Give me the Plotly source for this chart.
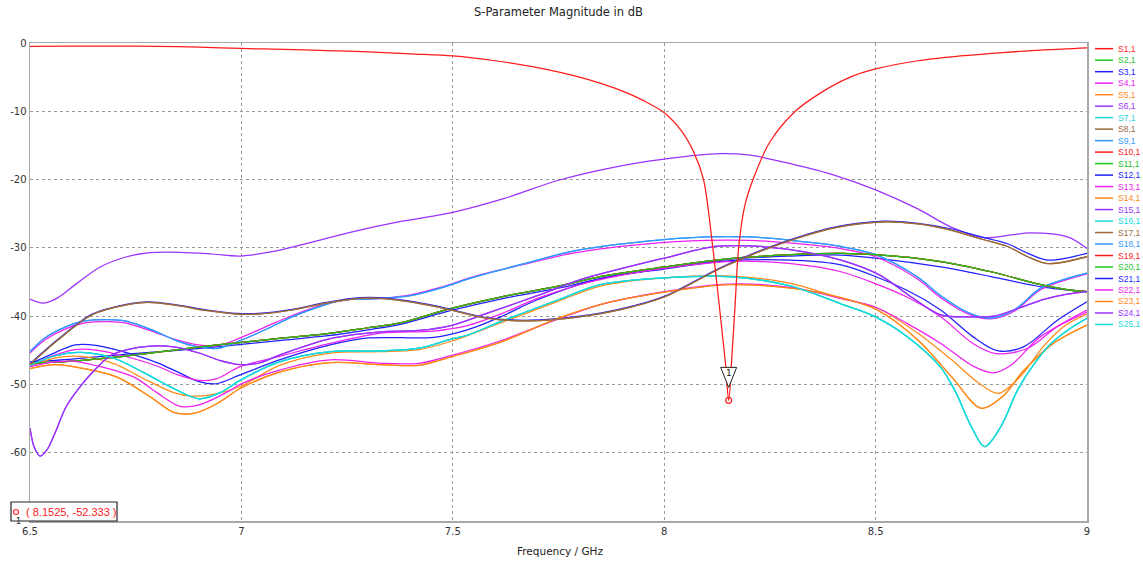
import plotly.graph_objects as go

# ---------------- data (frequency in GHz, magnitude in dB) ----------------
S1_F = [6.5, 6.6, 6.7, 6.8, 6.9, 7.0, 7.1, 7.2, 7.3, 7.4, 7.5, 7.6, 7.7, 7.8, 7.9, 7.95, 8.0, 8.04, 8.07,
        8.093, 8.115, 8.133, 8.145, 8.1525, 8.16, 8.168, 8.176, 8.19, 8.21, 8.25, 8.31, 8.37, 8.44, 8.5,
        8.6, 8.7, 8.8, 8.9, 9.0]
S1_DB = [-0.5, -0.45, -0.45, -0.5, -0.6, -0.8, -0.95, -1.1, -1.3, -1.6, -1.9, -2.6, -3.6, -5.0, -7.0, -8.4,
         -10.2, -12.8, -16.0, -20.0, -30.0, -40.0, -47.0, -52.333, -46.0, -38.0, -30.0, -24.0, -20.0, -14.5,
         -10.0, -7.3, -5.0, -3.8, -2.6, -1.9, -1.4, -1.0, -0.7]

TOP_F = [6.5, 6.531, 6.563, 6.611, 6.666, 6.729, 6.784, 6.855, 6.93, 6.997, 7.07, 7.139, 7.26, 7.38, 7.5,
         7.62, 7.75, 7.88, 8.0, 8.13, 8.2, 8.28, 8.4, 8.5, 8.6, 8.68, 8.757, 8.82, 8.867, 8.954, 9.0]
TOP_DB = [-37.5, -38.1, -37.4, -35.2, -32.8, -31.3, -30.7, -30.65, -30.9, -31.2, -30.6, -29.6, -27.7, -26.1,
          -24.8, -22.8, -20.1, -18.2, -17.0, -16.2, -16.4, -17.4, -19.3, -21.5, -24.3, -27.0, -28.5, -28.1,
          -27.8, -28.4, -30.1]

BROWN_F = [6.5, 6.566, 6.647, 6.725, 6.78, 6.843, 6.92, 6.99, 7.04, 7.12, 7.2, 7.28, 7.35, 7.46, 7.58, 7.68,
           7.8, 7.9, 8.0, 8.14, 8.28, 8.4, 8.52, 8.6, 8.678, 8.75, 8.812, 8.86, 8.907, 9.0]
BROWN_DB = [-47.1, -43.5, -39.8, -38.4, -38.0, -38.4, -39.2, -39.7, -39.7, -39.1, -38.1, -37.4, -37.5, -38.6,
            -40.3, -40.7, -40.1, -39.0, -37.2, -32.8, -29.3, -27.1, -26.2, -26.5, -27.4, -28.7, -29.8, -31.3,
            -32.3, -31.3]
BROWN2_DB = [-47.0, -43.4, -39.7, -38.3, -37.9, -38.3, -39.1, -39.6, -39.6, -39.0, -38.0, -37.3, -37.4, -38.5,
             -40.2, -40.6, -40.0, -38.9, -37.1, -32.7, -29.2, -27.0, -26.1, -26.4, -27.2, -28.4, -29.4, -30.8,
             -31.8, -30.8]

LB_F = [6.5, 6.535, 6.583, 6.63, 6.685, 6.725, 6.788, 6.843, 6.897, 6.945, 6.993, 7.056, 7.12, 7.2, 7.25, 7.33,
        7.4, 7.47, 7.55, 7.67, 7.79, 7.96, 8.1, 8.2, 8.3, 8.418, 8.5, 8.6, 8.654, 8.72, 8.773, 8.83, 8.891, 9.0]
LB_DB = [-45.2, -43.2, -41.6, -40.7, -40.5, -40.7, -42.0, -43.5, -44.5, -44.7, -43.7, -42.0, -40.1, -38.3, -37.6,
         -37.4, -37.0, -35.9, -34.3, -32.3, -30.4, -29.0, -28.4, -28.4, -28.9, -29.8, -31.0, -34.3, -37.0, -39.5,
         -40.3, -39.0, -35.9, -33.7]
LB2_DB = [-45.4, -43.5, -41.9, -41.0, -40.8, -41.0, -42.2, -43.4, -44.2, -44.3, -43.3, -41.6, -39.9, -38.2, -37.6,
          -37.4, -36.9, -35.8, -34.2, -32.4, -30.7, -29.4, -28.9, -28.9, -29.3, -30.1, -31.3, -34.6, -37.3, -39.7,
          -40.4, -39.2, -36.1, -33.8]

PUR_F = [6.5, 6.51, 6.524, 6.54, 6.56, 6.585, 6.615, 6.645, 6.69, 6.73, 6.784, 6.84, 6.9, 6.95, 6.997, 7.04,
         7.09, 7.21, 7.33, 7.42, 7.5, 7.58, 7.7, 7.8, 7.9, 8.0, 8.12, 8.2, 8.29, 8.418, 8.51, 8.58, 8.654, 8.72,
         8.78, 8.84, 8.9, 8.95, 9.0]
PUR_DB = [-56.4, -59.2, -60.5, -59.6, -57.0, -53.3, -50.6, -48.4, -45.8, -44.9, -44.4, -44.5, -45.4, -46.5, -47.1,
          -46.9, -45.7, -43.3, -42.3, -42.1, -41.3, -39.6, -37.0, -34.7, -33.0, -31.5, -29.8, -29.7, -30.2, -31.8,
          -34.0, -37.0, -39.8, -40.1, -40.0, -38.8, -37.5, -36.8, -36.4]

GRN_F = [6.5, 6.6, 6.72, 6.85, 6.96, 7.1, 7.2, 7.3, 7.376, 7.494, 7.613, 7.75, 7.849, 8.0, 8.15, 8.3, 8.418, 8.5,
         8.654, 8.773, 8.891, 8.96, 9.0]
GRN_DB = [-46.9, -46.6, -45.9, -44.9, -44.1, -43.2, -42.6, -41.7, -41.0, -38.9, -37.2, -35.6, -34.2, -32.8, -31.6,
          -31.0, -30.8, -31.0, -32.0, -33.5, -35.4, -36.2, -36.4]

BLU_F = [6.5, 6.6, 6.72, 6.85, 6.96, 7.1, 7.2, 7.3, 7.376, 7.494, 7.613, 7.75, 7.849, 8.0, 8.15, 8.3, 8.418, 8.5,
         8.654, 8.773, 8.891, 9.0]
BLU_DB = [-46.7, -46.3, -45.6, -45.0, -44.4, -43.5, -42.9, -42.0, -41.2, -39.2, -37.5, -35.9, -34.5, -33.0, -31.7,
          -31.2, -31.05, -31.5, -32.8, -34.2, -35.7, -36.4]

BBUMP_F = [6.5, 6.55, 6.607, 6.66, 6.72, 6.8, 6.85, 6.9, 6.94, 6.997, 7.09, 7.21, 7.3, 7.455, 7.534, 7.613, 7.7,
           7.849, 8.0, 8.15, 8.3, 8.418, 8.574, 8.654, 8.73, 8.79, 8.85, 8.93, 9.0]
BBUMP_DB = [-47.0, -45.6, -44.2, -44.3, -45.2, -46.8, -48.2, -49.6, -49.9, -48.6, -46.4, -44.2, -43.2, -43.1,
            -42.0, -40.1, -37.6, -34.5, -33.1, -31.9, -31.8, -32.5, -36.2, -39.1, -43.0, -45.1, -44.5, -40.6, -37.9]

MBUMP_F = [6.5, 6.55, 6.607, 6.66, 6.72, 6.8, 6.85, 6.9, 6.94, 6.997, 7.09, 7.21, 7.33, 7.455, 7.534, 7.613, 7.7,
           7.8, 7.9, 8.0, 8.15, 8.3, 8.418, 8.574, 8.654, 8.73, 8.785, 8.86, 8.93, 9.0]
MBUMP_DB = [-47.3, -45.9, -44.9, -45.0, -45.8, -47.3, -48.6, -49.4, -49.2, -47.4, -45.9, -44.0, -42.5, -42.2,
            -41.4, -39.7, -37.4, -35.4, -34.0, -33.0, -32.0, -32.3, -33.5, -37.2, -40.1, -44.0, -45.5, -44.7,
            -41.5, -39.1]

CYAN_F = [6.5, 6.56, 6.62, 6.7, 6.77, 6.84, 6.9, 6.95, 6.997, 7.09, 7.21, 7.33, 7.42, 7.5, 7.534, 7.613, 7.75,
          7.849, 8.0, 8.15, 8.3, 8.418, 8.496, 8.575, 8.654, 8.69, 8.725, 8.758, 8.796, 8.836, 8.875, 8.915,
          8.96, 9.0]
CYAN_DB = [-47.2, -45.8, -45.3, -46.2, -48.3, -50.6, -52.1, -51.2, -49.4, -46.7, -45.2, -45.1, -44.7, -43.3,
           -42.8, -40.8, -37.6, -35.4, -34.4, -34.2, -35.6, -38.2, -40.0, -43.0, -47.5, -51.2, -56.0, -59.1,
           -56.2, -50.8, -47.0, -44.0, -41.8, -40.3]

OR1_F = [6.5, 6.56, 6.62, 6.7, 6.77, 6.84, 6.88, 6.93, 6.997, 7.09, 7.21, 7.33, 7.42, 7.5, 7.613, 7.75, 7.849,
         8.0, 8.15, 8.3, 8.418, 8.504, 8.6, 8.68, 8.74, 8.79, 8.84, 8.9, 8.95, 9.0]
OR1_DB = [-47.4, -46.1, -45.9, -47.0, -49.2, -51.2, -51.7, -51.5, -50.3, -47.2, -45.4, -45.2, -44.9, -43.6, -41.0,
          -37.8, -35.6, -34.4, -34.1, -35.2, -37.4, -38.8, -42.5, -46.4, -49.6, -51.3, -49.0, -44.2, -41.3, -39.7]

OR2_F = [6.5, 6.56, 6.62, 6.705, 6.784, 6.84, 6.89, 6.943, 6.997, 7.09, 7.21, 7.33, 7.42, 7.5, 7.613, 7.75, 7.849,
         8.0, 8.15, 8.3, 8.418, 8.504, 8.6, 8.68, 8.75, 8.8, 8.85, 8.92, 9.0]
OR2_DB = [-47.7, -47.1, -47.6, -48.9, -51.8, -54.1, -54.2, -52.8, -50.6, -48.2, -46.8, -47.1, -47.2, -45.9, -43.8,
          -40.3, -38.3, -36.5, -35.4, -35.9, -37.3, -39.1, -43.5, -48.9, -53.5, -51.8, -48.0, -44.0, -41.3]

MAG3_F = [6.5, 6.56, 6.6, 6.66, 6.745, 6.8, 6.855, 6.9, 6.97, 6.997, 7.09, 7.21, 7.33, 7.42, 7.5, 7.613, 7.75,
          7.849, 8.0, 8.15, 8.3, 8.418, 8.5, 8.575, 8.654, 8.733, 8.78, 8.82, 8.89, 9.0]
MAG3_DB = [-47.4, -46.7, -46.6, -47.3, -48.9, -51.2, -53.2, -53.0, -51.0, -50.0, -47.9, -46.4, -46.9, -46.9, -45.7,
           -43.6, -40.4, -38.3, -36.4, -35.3, -35.8, -37.4, -38.7, -41.1, -44.0, -47.4, -48.3, -47.2, -43.0, -39.4]

MARK_F = 8.1525
MARK_DB = -52.333

X_TICKS = [6.5, 7, 7.5, 8, 8.5, 9]
X_TICK_TEXT = ["6.5", "7", "7.5", "8", "8.5", "9"]
Y_TICKS = [0, -10, -20, -30, -40, -50, -60]
Y_TICK_TEXT = ["0", "-10", "-20", "-30", "-40", "-50", "-60"]

# ---------------- styling ----------------
C_RED = "#ff1a1a"
C_GRN = "#1fc41f"
C_BLU = "#2020ff"
C_MAG = "#ee20ee"
C_ORA = "#ff8a1a"
C_PUR = "#9a33ff"
C_CYA = "#1adada"
C_BRN = "#9c6a3c"
C_LBL = "#3399ff"

SERIES = [
    ("S1,1", C_RED, S1_F, S1_DB),
    ("S2,1", C_GRN, GRN_F, GRN_DB),
    ("S3,1", C_BLU, BLU_F, BLU_DB),
    ("S4,1", C_MAG, LB_F, LB2_DB),
    ("S5,1", C_ORA, OR1_F, OR1_DB),
    ("S6,1", C_PUR, TOP_F, TOP_DB),
    ("S7,1", C_CYA, CYAN_F, CYAN_DB),
    ("S8,1", C_BRN, BROWN_F, BROWN_DB),
    ("S9,1", C_LBL, LB_F, LB_DB),
    ("S10,1", C_RED, GRN_F, GRN_DB),
    ("S11,1", C_GRN, GRN_F, GRN_DB),
    ("S12,1", C_BLU, BBUMP_F, BBUMP_DB),
    ("S13,1", C_MAG, MBUMP_F, MBUMP_DB),
    ("S14,1", C_ORA, OR2_F, OR2_DB),
    ("S15,1", C_PUR, PUR_F, PUR_DB),
    ("S16,1", C_CYA, CYAN_F, CYAN_DB),
    ("S17,1", C_BRN, BROWN_F, BROWN_DB),
    ("S18,1", C_LBL, LB_F, LB_DB),
    ("S19,1", C_RED, GRN_F, GRN_DB),
    ("S20,1", C_GRN, GRN_F, GRN_DB),
    ("S21,1", C_BLU, BROWN_F, BROWN2_DB),
    ("S22,1", C_MAG, MAG3_F, MAG3_DB),
    ("S23,1", C_ORA, OR2_F, OR2_DB),
    ("S24,1", C_PUR, PUR_F, PUR_DB),
    ("S25,1", C_CYA, CYAN_F, CYAN_DB),
]

FONT = "DejaVu Sans"
W, H = 1143, 562
L, R, T, B = 30, 56, 43, 41
PW, PH = W - L - R, H - T - B


def px_to_paper_x(px):
    return (px - L) / PW


def py_to_paper_y(py):
    return (H - B - py) / PH


fig = go.Figure()

# drawing order: S21 under the brown pair, S1,1 on top of everything
order = [i for i in range(1, len(SERIES)) if SERIES[i][0] not in ("S8,1", "S17,1")]
order += [i for i in range(len(SERIES)) if SERIES[i][0] in ("S8,1", "S17,1")]
order += [0]
for i in order:
    name, col, f, db = SERIES[i]
    fig.add_trace(go.Scatter(
        x=f, y=db, mode="lines", name=name, showlegend=False, hoverinfo="skip",
        line=dict(color=col, width=1.25, shape="spline", smoothing=0.9)))

# marker 1
fig.add_trace(go.Scatter(
    x=[MARK_F], y=[MARK_DB], mode="markers", showlegend=False, hoverinfo="skip",
    marker=dict(symbol="circle", size=6, color="rgba(255,255,255,0)",
                line=dict(color=C_RED, width=1.2))))

shapes = []
annotations = []

# marker triangle (pixel-sized, anchored at the marker point)
shapes.append(dict(type="path", xref="x", yref="y", xsizemode="pixel", ysizemode="pixel",
                   xanchor=MARK_F, yanchor=MARK_DB,
                   path="M -8 33 L 8 33 L 0 13 Z",
                   line=dict(color="#222222", width=1), fillcolor="white", layer="above"))
annotations.append(dict(x=MARK_F, y=MARK_DB, xref="x", yref="y", yshift=27, text="1",
                        showarrow=False, font=dict(family=FONT, size=9, color="#222222")))

# readout box bottom-left
shapes.append(dict(type="rect", xref="paper", yref="paper",
                   x0=px_to_paper_x(11), x1=px_to_paper_x(117),
                   y0=py_to_paper_y(521), y1=py_to_paper_y(502),
                   line=dict(color="#222222", width=1.2), fillcolor="white", layer="above"))
shapes.append(dict(type="circle", xref="paper", yref="paper",
                   x0=px_to_paper_x(13.5), x1=px_to_paper_x(18.5),
                   y0=py_to_paper_y(514.5), y1=py_to_paper_y(509.5),
                   line=dict(color=C_RED, width=1.1), layer="above"))
annotations.append(dict(x=px_to_paper_x(24), y=py_to_paper_y(511.5), xref="paper", yref="paper",
                        xanchor="left", yanchor="middle", showarrow=False,
                        text=f"( {MARK_F}, {MARK_DB} )",
                        font=dict(family="Liberation Sans", size=11, color=C_RED)))
annotations.append(dict(x=px_to_paper_x(18), y=py_to_paper_y(521), xref="paper", yref="paper",
                        xanchor="center", yanchor="middle", showarrow=False, text="1",
                        font=dict(family=FONT, size=8, color="#222222")))

# manual legend (colored text like the original)
for k, (name, col, _, _) in enumerate(SERIES):
    py = 48.7 + k * 11.49
    shapes.append(dict(type="line", xref="paper", yref="paper",
                       x0=px_to_paper_x(1095), x1=px_to_paper_x(1113),
                       y0=py_to_paper_y(py), y1=py_to_paper_y(py),
                       line=dict(color=col, width=1.5)))
    annotations.append(dict(x=px_to_paper_x(1116), y=py_to_paper_y(py), xref="paper", yref="paper",
                            xanchor="left", yanchor="middle", showarrow=False, text=name,
                            font=dict(family="Liberation Sans", size=8.5, color=col)))

# title and axis title
annotations.append(dict(x=0.5, y=py_to_paper_y(12), xref="paper", yref="paper", xanchor="center",
                        yanchor="middle", showarrow=False, text="S-Parameter Magnitude in dB",
                        font=dict(family=FONT, size=11.5, color="#222222")))
annotations.append(dict(x=px_to_paper_x(560), y=py_to_paper_y(551), xref="paper", yref="paper",
                        xanchor="center", yanchor="middle", showarrow=False, text="Frequency / GHz",
                        font=dict(family=FONT, size=10.5, color="#222222")))

axis_common = dict(showline=True, mirror=True, linecolor="#a8a8a8", linewidth=1.5,
                   showgrid=True, gridcolor="#9a9a9a", griddash="dot", gridwidth=1,
                   zeroline=False, ticks="", automargin=False,
                   tickfont=dict(family=FONT, size=10, color="#333333"))

fig.update_layout(
    width=W, height=H,
    margin=dict(l=L, r=R, t=T, b=B, autoexpand=False),
    paper_bgcolor="white", plot_bgcolor="white",
    xaxis=dict(range=[6.5, 9], tickvals=X_TICKS, ticktext=X_TICK_TEXT, **axis_common),
    yaxis=dict(range=[-70, 0], tickvals=Y_TICKS, ticktext=Y_TICK_TEXT, **axis_common),
    shapes=shapes, annotations=annotations, showlegend=False,
)

fig.write_html(
    "out.html",
    config={"displayModeBar": False, "staticPlot": True},
    post_script="document.body.style.margin='0';document.body.style.padding='0';"
                "document.documentElement.style.overflow='hidden';",
)
